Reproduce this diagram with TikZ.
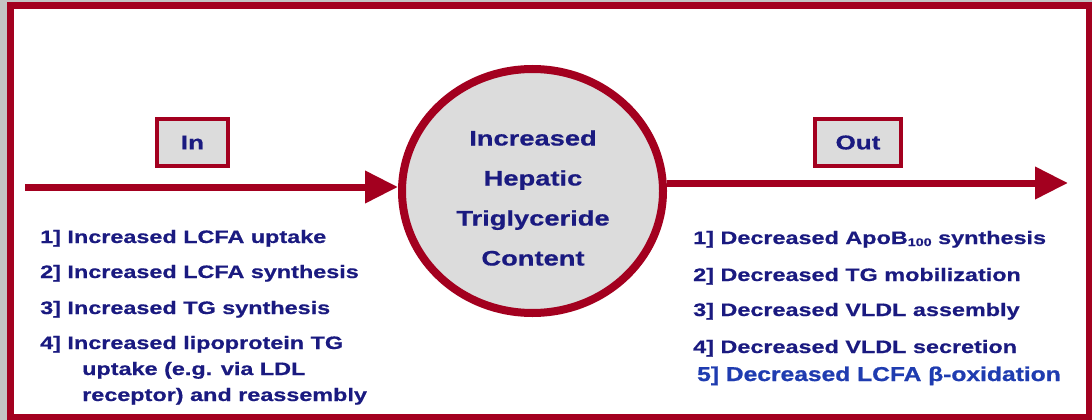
\documentclass[tikz,border=0pt]{standalone}
\usepackage{fontspec}
\setmainfont{Liberation Sans}[FakeStretch=1.3, FakeBold=0.6]
\newfontfamily\fivefont{Liberation Sans}[FakeStretch=1.23, FakeBold=1]
\usetikzlibrary{arrows.meta,shapes.geometric}
\definecolor{fr}{HTML}{A3001F}
\definecolor{navy}{HTML}{1A1A80}
\definecolor{lblue}{HTML}{1F3CB0}
\definecolor{boxg}{HTML}{DCDCDC}
\definecolor{bgg}{HTML}{C4C4C4}
\begin{document}
\begin{tikzpicture}[x=1pt,y=-1pt,
  lbox/.style={draw=fr, line width=4pt, fill=boxg, minimum width=71pt, minimum height=47pt, inner sep=0pt, text=navy, font=\fontsize{20}{20}\selectfont\bfseries},
  item/.style={anchor=base west, inner sep=0pt, text=navy, font=\fontsize{18}{18}\selectfont\bfseries},
  flow/.style={draw=fr, line width=7pt, -{Triangle[length=33pt,width=31pt]}}]
\useasboundingbox (0,0) rectangle (1092,420);
\fill[bgg] (0,0) rectangle (1092,420);
\draw[fr, line width=7pt, fill=white] (10,6) rectangle (1089,417);

\node[ellipse, draw=fr, line width=8pt, fill=boxg, minimum width=261pt, minimum height=244pt, inner sep=0pt] (circ) at (532.5,191) {};
\node[align=center, text=navy, font=\fontsize{21}{40}\selectfont\bfseries] (ctext) at (533,198) {Increased\\Hepatic\\Triglyceride\\Content};

\node[lbox] (inbox) at (192.5,142.5) {In};
\node[lbox, minimum width=86pt] (outbox) at (858,142.5) {Out};

\coordinate (inS) at (25,187);
\coordinate (outE) at (1068,183);
\draw[flow] (inS) -- (inS -| circ.west);
\draw[flow] (outE -| circ.east) -- (outE);

\node[item] (l1) at (40,243) {1] Increased LCFA uptake};
\node[item] (l2) at (40,278) {2] Increased LCFA synthesis};
\node[item] (l3) at (40,314) {3] Increased TG synthesis};
\node[item] (l4) at (40,349) {4] Increased lipoprotein TG};
\node[item] (l5) at (82,375) {uptake (e.g. via LDL};
\node[item] (l6) at (82,401) {receptor) and reassembly};

\node[item] (r1) at (693,244) {1] Decreased ApoB\raisebox{-2pt}{\fontsize{11}{11}\selectfont 100} synthesis};
\node[item] (r2) at (693,281) {2] Decreased TG mobilization};
\node[item] (r3) at (693,316) {3] Decreased VLDL assembly};
\node[item] (r4) at (693,353) {4] Decreased VLDL secretion};
\node[item, text=lblue, font=\fontsize{20}{20}\selectfont\fivefont\bfseries] (r5) at (697,381) {5] Decreased LCFA β-oxidation};
\end{tikzpicture}
\end{document}
